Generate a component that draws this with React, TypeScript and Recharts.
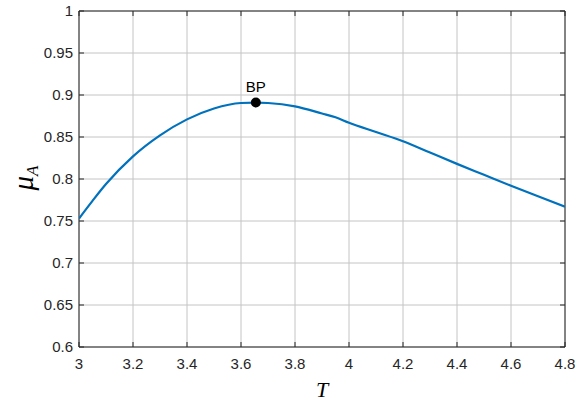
import React from "react";
import {
  LineChart,
  Line,
  XAxis,
  YAxis,
  CartesianGrid,
  ReferenceDot,
  ReferenceArea,
} from "recharts";

// ---- data ----
const T_VALUES = [3.0, 3.05, 3.1, 3.2, 3.3, 3.4, 3.5, 3.6, 3.655, 3.7, 3.8, 3.9, 3.95, 4.0, 4.1, 4.2, 4.3, 4.4, 4.5, 4.6, 4.7, 4.8];
const MU_VALUES = [0.753, 0.774, 0.794, 0.827, 0.852, 0.871, 0.884, 0.8905, 0.891, 0.8905, 0.8865, 0.878, 0.8735, 0.867, 0.856, 0.845, 0.8315, 0.818, 0.805, 0.792, 0.7795, 0.767];
const X_TICKS = [3, 3.2, 3.4, 3.6, 3.8, 4, 4.2, 4.4, 4.6, 4.8];
const Y_TICKS = [0.6, 0.65, 0.7, 0.75, 0.8, 0.85, 0.9, 0.95, 1];
const BP_POINT = { T: 3.655, mu: 0.891, label: "BP" };

const data = T_VALUES.map((t, i) => ({ T: t, mu: MU_VALUES[i] }));

// ---- layout ----
const W = 586;
const H = 403;
const TOP = 11;
const LEFT = 79;
const RIGHT_MARGIN = 21;
const X_AXIS_H = 56;
const BOTTOM = H - X_AXIS_H;
const RIGHT = W - RIGHT_MARGIN;
const TICK_LEN = 5;
const AXIS_COLOR = "#262626";
const FONT = "'Liberation Sans', Arial, Helvetica, sans-serif";
const TICK_FONT = 15;

const XTick = (props: any) => {
  const { x, payload } = props;
  return (
    <g>
      <line x1={x} x2={x} y1={BOTTOM} y2={BOTTOM - TICK_LEN} stroke={AXIS_COLOR} />
      <line x1={x} x2={x} y1={TOP} y2={TOP + TICK_LEN} stroke={AXIS_COLOR} />
      <text x={x} y={BOTTOM + 22} textAnchor="middle" fontSize={TICK_FONT} fontFamily={FONT} fill={AXIS_COLOR}>
        {String(payload.value)}
      </text>
    </g>
  );
};

const YTick = (props: any) => {
  const { y, payload } = props;
  return (
    <g>
      <line x1={LEFT} x2={LEFT + TICK_LEN} y1={y} y2={y} stroke={AXIS_COLOR} />
      <line x1={RIGHT} x2={RIGHT - TICK_LEN} y1={y} y2={y} stroke={AXIS_COLOR} />
      <text x={LEFT - 6} y={y + 5} textAnchor="end" fontSize={TICK_FONT} fontFamily={FONT} fill={AXIS_COLOR}>
        {String(payload.value)}
      </text>
    </g>
  );
};

const YLabel = () => {
  const cx = 33;
  const cy = 178;
  return (
    <text
      x={cx}
      y={cy}
      transform={`rotate(-90, ${cx}, ${cy})`}
      textAnchor="middle"
      fontFamily="'Liberation Serif', 'Times New Roman', serif"
      fontStyle="italic"
      fill="#000"
    >
      <tspan fontSize={29}>μ</tspan>
      <tspan fontSize={17} dy={5}>A</tspan>
    </text>
  );
};

const XLabel = () => (
  <text
    x={(LEFT + RIGHT) / 2}
    y={397}
    textAnchor="middle"
    fontFamily="'Liberation Serif', 'Times New Roman', serif"
    fontStyle="italic"
    fontSize={22}
    fill="#000"
  >
    T
  </text>
);

export default function App() {
  return (
    <div style={{ position: "absolute", left: 0, top: 0, width: W, height: H, background: "#fff" }}>
      <LineChart
        width={W}
        height={H}
        data={data}
        margin={{ top: TOP, right: RIGHT_MARGIN, bottom: 0, left: 0 }}
      >
        <CartesianGrid stroke="#c4c4c4" strokeWidth={1} />
        <XAxis
          type="number"
          dataKey="T"
          domain={[3, 4.8]}
          ticks={X_TICKS}
          interval={0}
          height={X_AXIS_H}
          axisLine={false}
          tickLine={false}
          tickSize={0}
          tick={<XTick />}
          label={{ content: <XLabel /> }}
          allowDataOverflow
        />
        <YAxis
          type="number"
          domain={[0.6, 1]}
          ticks={Y_TICKS}
          interval={0}
          width={LEFT}
          axisLine={false}
          tickLine={false}
          tickSize={0}
          tick={<YTick />}
          label={{ content: <YLabel /> }}
          allowDataOverflow
        />
        <ReferenceArea
          x1={3}
          x2={4.8}
          y1={0.6}
          y2={1}
          fill="none"
          fillOpacity={0}
          stroke={AXIS_COLOR}
          strokeWidth={1}
        />
        <Line
          type="monotone"
          dataKey="mu"
          stroke="#0072BD"
          strokeWidth={2.2}
          dot={false}
          activeDot={false}
          isAnimationActive={false}
        />
        <ReferenceDot
          x={BP_POINT.T}
          y={BP_POINT.mu}
          r={5}
          fill="#000"
          stroke="none"
          label={{ value: BP_POINT.label, position: "top", offset: 6, fontSize: 15, fontFamily: FONT, fill: "#000" }}
        />
      </LineChart>
    </div>
  );
}
